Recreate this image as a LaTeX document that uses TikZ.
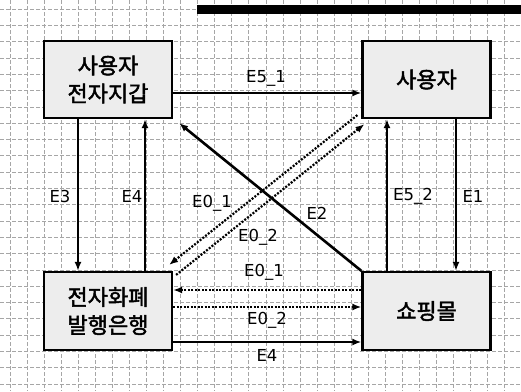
\documentclass[tikz,border=0pt]{standalone}
\usepackage{fontspec}
\setmainfont{DejaVu Sans}
\newfontfamily\kr{Noto Sans CJK KR}[FakeBold=2]
\usetikzlibrary{arrows.meta,calc}
\begin{document}
\begin{tikzpicture}[x=1pt,y=-1pt,
  box/.style={draw,line width=2.2pt,fill=gray!14,minimum width=128pt,minimum height=77pt,inner sep=0pt,align=center,font=\kr\fontsize{22}{28}\selectfont},
  arr/.style={line width=2pt,-{Latex[length=9pt,width=7pt]}},
  dotarr/.style={line width=2.2pt,dash pattern=on 2pt off 1.5pt,-{Latex[length=9pt,width=7pt]}},
  lbl/.style={font=\fontsize{16.5}{16.5}\selectfont,inner sep=0pt},
  gridl/.style={gray!70,line width=0.5pt,dash pattern=on 4pt off 2pt}]
\useasboundingbox (0,0) rectangle (521,391);
\fill[white] (0,0) rectangle (521,391);
% background grid of the scanned sheet
\foreach \k in {0,...,29} \draw[gridl] ({10+17.05*\k},0) -- ({10+17.05*\k},391);
\foreach \k in {0,...,23} \draw[gridl] (0,{9+16.3*\k}) -- (521,{9+16.3*\k});
% top black bar
\fill[black] (197,5) rectangle (521,14);
% boxes
\node[box] (wallet) at (108,79.5) {사용자\\전자지갑};
\node[box] (user) at (426.5,79.5) {사용자};
\node[box,minimum height=78pt] (bank) at (108,311) {전자화폐\\발행은행};
\node[box,minimum height=78pt] (mall) at (426.5,311) {쇼핑몰};
% connectors
\draw[arr] ($(wallet.east)+(0,13.5)$) -- ($(user.west)+(0,13.5)$);
\draw[arr] ($(wallet.south)+(-30,0)$) -- ($(bank.north)+(-30,0)$);
\draw[arr] ($(bank.north)+(37,0)$) -- ($(wallet.south)+(37,0)$);
\draw[arr] ($(mall.north)+(-39.5,0)$) -- ($(user.south)+(-39.5,0)$);
\draw[arr] ($(user.south)+(29.5,0)$) -- ($(mall.north)+(29.5,0)$);
\draw[arr,line width=2.6pt] (mall.north west) -- ($(wallet.south east)+(6,4)$);
\draw[dotarr] ($(user.south west)+(-4,-4)$) -- ($(bank.north east)+(-4,-6)$);
\draw[dotarr] ($(bank.north east)+(3,4)$) -- ($(user.south west)+(3,5)$);
\draw[dotarr] ($(mall.west)+(0,-21)$) -- ($(bank.east)+(0,-21)$);
\draw[dotarr] ($(bank.east)+(0,-4)$) -- ($(mall.west)+(0,-4)$);
\draw[arr] ($(bank.east)+(0,31)$) -- ($(mall.west)+(0,31)$);
% labels
\node[lbl] (l51) at (266,78) {E5\_1};
\node[lbl] (l3) at (60,196) {E3};
\node[lbl] (l4v) at (132,196) {E4};
\node[lbl] (l52) at (413,196) {E5\_2};
\node[lbl] (l1) at (473,196) {E1};
\node[lbl] (l01d) at (212,203) {E0\_1};
\node[lbl] (l02d) at (258,237) {E0\_2};
\node[lbl] (l2) at (317,213) {E2};
\node[lbl] (l01h) at (264,272) {E0\_1};
\node[lbl] (l02h) at (267,320) {E0\_2};
\node[lbl] (l4h) at (267,355) {E4};
\end{tikzpicture}
\end{document}
